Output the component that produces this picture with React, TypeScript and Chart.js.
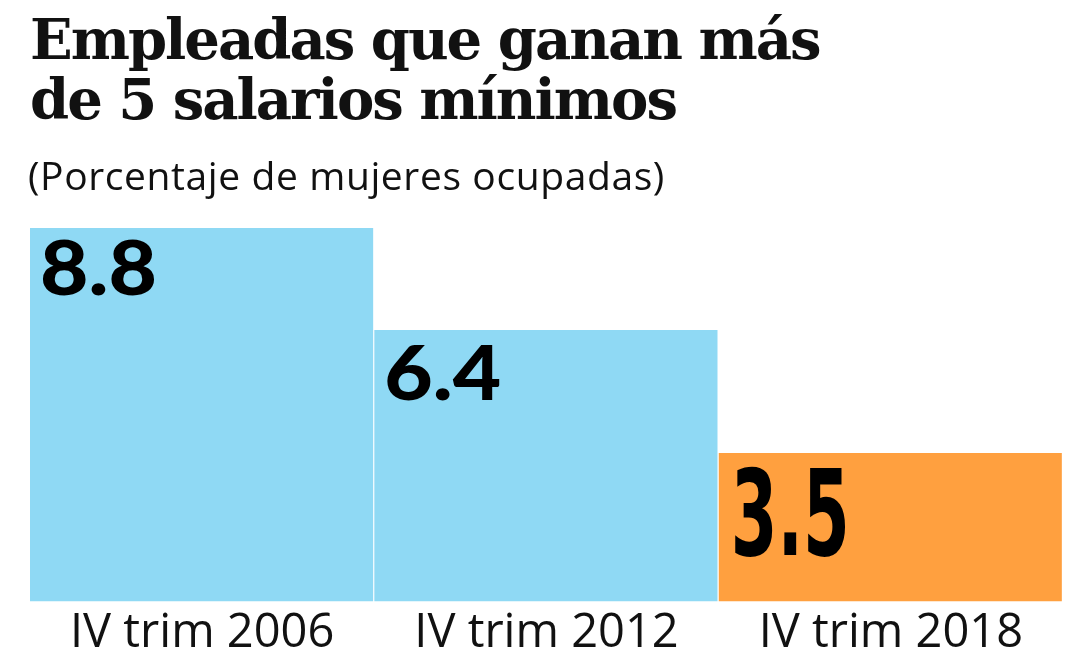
import React, { useEffect, useRef } from "react";
import { Chart, registerables } from "chart.js";

Chart.register(...registerables);

const titleLines = ["Empleadas que ganan más", "de 5 salarios mínimos"];
const subtitle = "(Porcentaje de mujeres ocupadas)";
const categories = ["IV trim 2006", "IV trim 2012", "IV trim 2018"];
const values = [8.8, 6.4, 3.5];
const valueLabels = ["8.8", "6.4", "3.5"];
const barColors = ["#8fd9f4", "#8fd9f4", "#ffa03f"];

const valueLabelPlugin = {
  id: "valueLabels",
  afterDatasetsDraw(chart: any) {
    const ctx = chart.ctx as CanvasRenderingContext2D;
    const meta = chart.getDatasetMeta(0);
    meta.data.forEach((bar: any, i: number) => {
      const left = bar.x - bar.width / 2;
      const top = bar.y;
      ctx.save();
      ctx.fillStyle = "#000";
      ctx.textBaseline = "alphabetic";
      ctx.textAlign = "left";
      if (i === 2) {
        ctx.font = "bold 120px 'DejaVu Sans'";
        ctx.translate(left + 12, top + 102);
        ctx.scale(0.56, 1);
        ctx.fillText(valueLabels[i], 0, 0);
      } else {
        ctx.font = "900 76px Lato";
        ctx.translate(left + 10, top + (i === 0 ? 67 : 70));
        ctx.scale(1.1, 1);
        ctx.fillText(valueLabels[i], 0, 0);
      }
      ctx.restore();
    });
  },
};

export default function App() {
  const canvasRef = useRef<HTMLCanvasElement | null>(null);

  useEffect(() => {
    if (!canvasRef.current) return;
    const chart = new Chart(canvasRef.current, {
      type: "bar",
      data: {
        labels: categories,
        datasets: [
          {
            data: values,
            backgroundColor: barColors,
            borderColor: "#ffffff",
            borderWidth: { top: 0, left: 0, bottom: 0, right: 1.5 },
            borderSkipped: false,
            categoryPercentage: 1,
            barPercentage: 1,
          },
        ],
      },
      options: {
        animation: false,
        responsive: false,
        maintainAspectRatio: false,
        layout: { padding: { left: 30, right: 26, top: 228, bottom: 0 } },
        plugins: {
          legend: { display: false },
          tooltip: { enabled: false },
          title: { display: false },
        },
        scales: {
          x: {
            grid: { display: false, drawTicks: false },
            border: { display: false },
            ticks: {
              color: "#111",
              padding: 4,
              font: { family: "'Open Sans'", size: 47, lineHeight: 1.2 },
            },
          },
          y: {
            display: false,
            min: 0,
            max: 8.8,
          },
        },
      },
      plugins: [valueLabelPlugin],
    });
    return () => chart.destroy();
  }, []);

  return (
    <div
      style={{
        position: "fixed",
        left: 0,
        top: 0,
        width: 1089,
        height: 666,
        background: "#fff",
        overflow: "hidden",
      }}
    >
      <canvas
        ref={canvasRef}
        width={1089}
        height={666}
        style={{ position: "absolute", left: 0, top: 0, width: 1089, height: 666 }}
      />
      <div
        style={{
          position: "absolute",
          left: 30,
          top: 9,
          fontFamily: "'DejaVu Serif', serif",
          fontWeight: "bold",
          fontSize: 56,
          letterSpacing: "-2px",
          lineHeight: "60px",
          color: "#111",
          whiteSpace: "nowrap",
        }}
      >
        {titleLines.map((t, i) => (
          <div key={i}>{t}</div>
        ))}
      </div>
      <div
        style={{
          position: "absolute",
          left: 28,
          top: 152,
          fontFamily: "'Open Sans', sans-serif",
          fontSize: 39,
          letterSpacing: "0.6px",
          lineHeight: "46px",
          color: "#111",
          whiteSpace: "nowrap",
        }}
      >
        {subtitle}
      </div>
    </div>
  );
}
